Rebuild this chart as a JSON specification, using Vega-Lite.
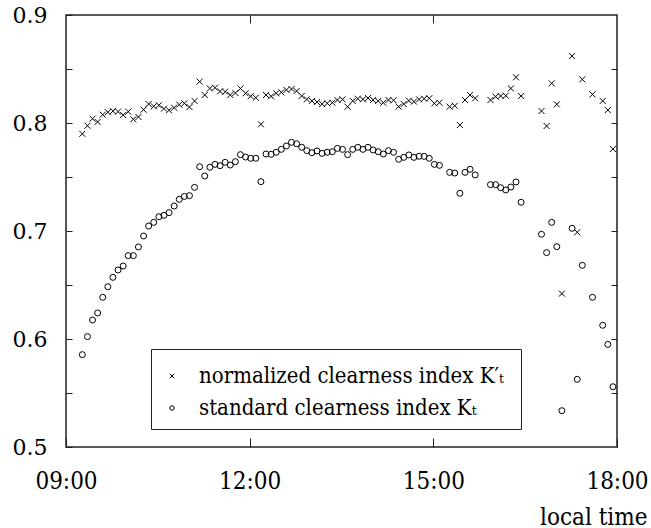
{
  "$schema": "https://vega.github.io/schema/vega-lite/v6.json",
  "width": 551,
  "height": 432,
  "autosize": {"type": "none"},
  "padding": {"left": 66, "top": 15, "right": 34, "bottom": 81},
  "background": "white",
  "config": {
    "font": "DejaVu Serif",
    "view": {"stroke": "#222222", "strokeWidth": 1.5},
    "axis": {
      "domain": false,
      "grid": false,
      "tickColor": "#222222",
      "tickWidth": 1,
      "labelColor": "black",
      "titleFontWeight": "normal",
      "titleColor": "black"
    }
  },
  "data": {
    "format": {"parse": {"t": "date:'%H:%M'"}},
    "values": [
      {"t": "09:16", "normalized": 0.790, "standard": 0.5855},
      {"t": "09:21", "normalized": 0.7975, "standard": 0.6022},
      {"t": "09:26", "normalized": 0.804, "standard": 0.6176},
      {"t": "09:31", "normalized": 0.801, "standard": 0.6241},
      {"t": "09:36", "normalized": 0.8077, "standard": 0.6386},
      {"t": "09:41", "normalized": 0.810, "standard": 0.6484},
      {"t": "09:46", "normalized": 0.811, "standard": 0.6571},
      {"t": "09:51", "normalized": 0.8105, "standard": 0.6639},
      {"t": "09:56", "normalized": 0.8074, "standard": 0.6676},
      {"t": "10:01", "normalized": 0.8105, "standard": 0.6772},
      {"t": "10:06", "normalized": 0.8034, "standard": 0.6772},
      {"t": "10:11", "normalized": 0.8056, "standard": 0.6852},
      {"t": "10:16", "normalized": 0.8123, "standard": 0.6954},
      {"t": "10:21", "normalized": 0.8176, "standard": 0.7046},
      {"t": "10:26", "normalized": 0.8155, "standard": 0.708},
      {"t": "10:31", "normalized": 0.8164, "standard": 0.7132},
      {"t": "10:36", "normalized": 0.8133, "standard": 0.7145},
      {"t": "10:41", "normalized": 0.8118, "standard": 0.717},
      {"t": "10:46", "normalized": 0.8142, "standard": 0.7231},
      {"t": "10:51", "normalized": 0.817, "standard": 0.7293},
      {"t": "10:56", "normalized": 0.8182, "standard": 0.732},
      {"t": "11:01", "normalized": 0.8148, "standard": 0.7327},
      {"t": "11:06", "normalized": 0.8204, "standard": 0.7404},
      {"t": "11:11", "normalized": 0.8383, "standard": 0.7595},
      {"t": "11:16", "normalized": 0.8259, "standard": 0.7509},
      {"t": "11:21", "normalized": 0.832, "standard": 0.759},
      {"t": "11:26", "normalized": 0.8327, "standard": 0.7617},
      {"t": "11:31", "normalized": 0.8293, "standard": 0.7605},
      {"t": "11:36", "normalized": 0.829, "standard": 0.7636},
      {"t": "11:41", "normalized": 0.8259, "standard": 0.7611},
      {"t": "11:46", "normalized": 0.8278, "standard": 0.7642},
      {"t": "11:51", "normalized": 0.832, "standard": 0.7707},
      {"t": "11:56", "normalized": 0.8275, "standard": 0.7685},
      {"t": "12:01", "normalized": 0.8248, "standard": 0.7673},
      {"t": "12:06", "normalized": 0.8234, "standard": 0.7673},
      {"t": "12:11", "normalized": 0.7988, "standard": 0.7457},
      {"t": "12:16", "normalized": 0.8259, "standard": 0.7713},
      {"t": "12:21", "normalized": 0.8247, "standard": 0.771},
      {"t": "12:26", "normalized": 0.8275, "standard": 0.7729},
      {"t": "12:31", "normalized": 0.8284, "standard": 0.7756},
      {"t": "12:36", "normalized": 0.8306, "standard": 0.7787},
      {"t": "12:41", "normalized": 0.8315, "standard": 0.7821},
      {"t": "12:46", "normalized": 0.8296, "standard": 0.7808},
      {"t": "12:51", "normalized": 0.825, "standard": 0.7775},
      {"t": "12:56", "normalized": 0.8219, "standard": 0.7744},
      {"t": "13:01", "normalized": 0.8204, "standard": 0.7725},
      {"t": "13:06", "normalized": 0.8194, "standard": 0.7741},
      {"t": "13:11", "normalized": 0.8176, "standard": 0.7719},
      {"t": "13:16", "normalized": 0.8182, "standard": 0.7729},
      {"t": "13:21", "normalized": 0.8188, "standard": 0.7734},
      {"t": "13:26", "normalized": 0.8213, "standard": 0.7765},
      {"t": "13:31", "normalized": 0.8219, "standard": 0.7756},
      {"t": "13:36", "normalized": 0.8151, "standard": 0.7707},
      {"t": "13:41", "normalized": 0.8204, "standard": 0.7756},
      {"t": "13:46", "normalized": 0.8225, "standard": 0.7775},
      {"t": "13:51", "normalized": 0.8219, "standard": 0.7756},
      {"t": "13:56", "normalized": 0.8231, "standard": 0.7775},
      {"t": "14:01", "normalized": 0.8213, "standard": 0.775},
      {"t": "14:06", "normalized": 0.8204, "standard": 0.7734},
      {"t": "14:11", "normalized": 0.8188, "standard": 0.7713},
      {"t": "14:16", "normalized": 0.8213, "standard": 0.7744},
      {"t": "14:21", "normalized": 0.821, "standard": 0.7729},
      {"t": "14:26", "normalized": 0.8151, "standard": 0.7664},
      {"t": "14:31", "normalized": 0.8176, "standard": 0.7682},
      {"t": "14:36", "normalized": 0.8207, "standard": 0.7704},
      {"t": "14:41", "normalized": 0.8198, "standard": 0.7682},
      {"t": "14:46", "normalized": 0.8219, "standard": 0.7692},
      {"t": "14:51", "normalized": 0.8225, "standard": 0.7691},
      {"t": "14:56", "normalized": 0.8229, "standard": 0.7673},
      {"t": "15:01", "normalized": 0.8182, "standard": 0.7617},
      {"t": "15:06", "normalized": 0.8188, "standard": 0.7608},
      {"t": "15:16", "normalized": 0.8151, "standard": 0.7543},
      {"t": "15:21", "normalized": 0.816, "standard": 0.7537},
      {"t": "15:26", "normalized": 0.7981, "standard": 0.7349},
      {"t": "15:31", "normalized": 0.8213, "standard": 0.7543},
      {"t": "15:36", "normalized": 0.8259, "standard": 0.7571},
      {"t": "15:41", "normalized": 0.8229, "standard": 0.7519},
      {"t": "15:56", "normalized": 0.8213, "standard": 0.7429},
      {"t": "16:01", "normalized": 0.8244, "standard": 0.7429},
      {"t": "16:06", "normalized": 0.825, "standard": 0.7401},
      {"t": "16:11", "normalized": 0.8253, "standard": 0.738},
      {"t": "16:16", "normalized": 0.832, "standard": 0.7407},
      {"t": "16:21", "normalized": 0.8423, "standard": 0.7454},
      {"t": "16:26", "normalized": 0.825, "standard": 0.7266},
      {"t": "16:46", "normalized": 0.8111, "standard": 0.697},
      {"t": "16:51", "normalized": 0.7972, "standard": 0.680},
      {"t": "16:56", "normalized": 0.8367, "standard": 0.708},
      {"t": "17:01", "normalized": 0.8173, "standard": 0.6855},
      {"t": "17:06", "normalized": 0.642, "standard": 0.5336},
      {"t": "17:16", "normalized": 0.862, "standard": 0.7025},
      {"t": "17:21", "normalized": 0.6988, "standard": 0.5627},
      {"t": "17:26", "normalized": 0.8404, "standard": 0.6682},
      {"t": "17:36", "normalized": 0.8265, "standard": 0.6386},
      {"t": "17:46", "normalized": 0.8204, "standard": 0.6127},
      {"t": "17:51", "normalized": 0.812, "standard": 0.595},
      {"t": "17:56", "normalized": 0.7759, "standard": 0.5558}
    ]
  },
  "transform": [{"fold": ["normalized", "standard"], "as": ["series", "k"]}],
  "layer": [
    {
      "mark": {"type": "point", "filled": false, "strokeWidth": 1, "size": 36, "color": "black", "opacity": 1},
      "encoding": {
        "x": {
          "field": "t",
          "type": "temporal",
          "scale": {"domain": [{"year": 1900, "month": 1, "date": 1, "hours": 9}, {"year": 1900, "month": 1, "date": 1, "hours": 18}]},
          "axis": {
            "orient": "bottom",
            "values": [
              {"year": 1900, "month": 1, "date": 1, "hours": 9},
              {"year": 1900, "month": 1, "date": 1, "hours": 12},
              {"year": 1900, "month": 1, "date": 1, "hours": 15},
              {"year": 1900, "month": 1, "date": 1, "hours": 18}
            ],
            "format": "%H:%M",
            "labelFont": "DejaVu Serif Condensed",
            "labelFontSize": 24,
            "tickSize": -9,
            "labelPadding": 50,
            "labelBaseline": "alphabetic",
            "labelFlush": false,
            "labelOverlap": false,
            "title": "local time",
            "titleFont": "DejaVu Serif Condensed",
            "titleFontSize": 24,
            "titleX": 581,
            "titleY": 77,
            "titleAlign": "right",
            "titleBaseline": "alphabetic",
            "titleAnchor": null
          }
        },
        "y": {
          "field": "k",
          "type": "quantitative",
          "scale": {"domain": [0.5, 0.9]},
          "axis": {
            "orient": "left",
            "values": [0.5, 0.55, 0.6, 0.65, 0.7, 0.75, 0.8, 0.85, 0.9],
            "labelExpr": "round(datum.value*20) % 2 == 0 ? format(datum.value, '.1f') : ''",
            "labelFont": "DejaVu Serif",
            "labelFontSize": 22,
            "tickSize": -6,
            "labelPadding": 25,
            "labelBaseline": "middle",
            "labelFlush": false,
            "labelOverlap": false,
            "title": null
          }
        },
        "shape": {
          "field": "series",
          "type": "nominal",
          "scale": {"domain": ["normalized", "standard"], "range": ["M-1,-1L1,1M-1,1L1,-1", "circle"]},
          "legend": {
            "orient": "none",
            "legendX": 85,
            "legendY": 334,
            "title": " ",
            "titleFontSize": 4,
            "titlePadding": 2,
            "labelExpr": "datum.label == 'normalized' ? 'normalized clearness index  K′ₜ' : 'standard clearness index  Kₜ'",
            "labelFont": "DejaVu Serif Condensed",
            "labelFontSize": 22,
            "labelLimit": 0,
            "labelColor": "black",
            "labelBaseline": "middle",
            "strokeColor": "#222222",
            "fillColor": "white",
            "padding": 10,
            "symbolSize": 20,
            "symbolStrokeWidth": 1,
            "symbolStrokeColor": "black",
            "labelOffset": 16,
            "rowPadding": 10
          }
        }
      }
    },
    {
      "mark": {"type": "point", "opacity": 0},
      "encoding": {
        "x": {
          "field": "t",
          "type": "temporal",
          "scale": {"domain": [{"year": 1900, "month": 1, "date": 1, "hours": 9}, {"year": 1900, "month": 1, "date": 1, "hours": 18}]},
          "axis": {
            "orient": "top",
            "values": [
              {"year": 1900, "month": 1, "date": 1, "hours": 12},
              {"year": 1900, "month": 1, "date": 1, "hours": 15}
            ],
            "labels": false,
            "tickSize": -8,
            "title": null
          }
        },
        "y": {
          "field": "k",
          "type": "quantitative",
          "scale": {"domain": [0.5, 0.9]},
          "axis": {
            "orient": "right",
            "values": [0.55, 0.6, 0.65, 0.7, 0.75, 0.8, 0.85],
            "labels": false,
            "tickSize": -6,
            "title": null
          }
        }
      }
    }
  ],
  "resolve": {"axis": {"x": "independent", "y": "independent"}}
}
